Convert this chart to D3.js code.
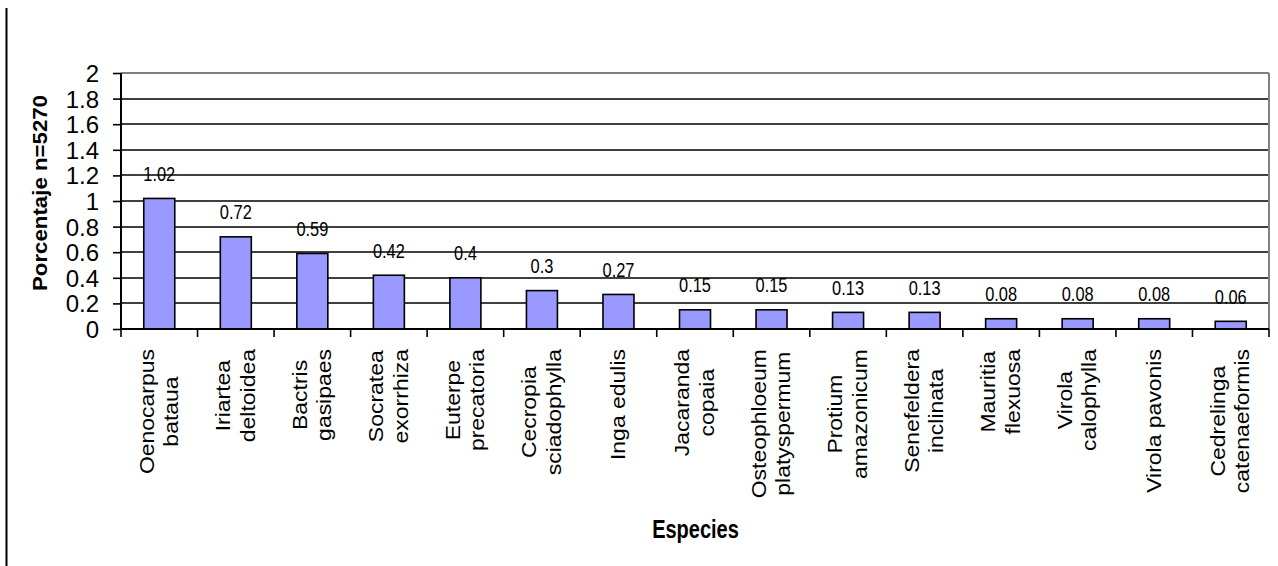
<!DOCTYPE html>
<html><head><meta charset="utf-8">
<script src="https://cdn.jsdelivr.net/npm/d3@7"></script>
<style>
body{margin:0;background:#fff}
svg{display:block}
text{font-family:"Liberation Sans",Arial,Helvetica,sans-serif;fill:#000}
</style>
</head><body>
<svg id="c" width="1278" height="566"></svg>
<script>
const categories = ["Oenocarpus\nbataua","Iriartea\ndeltoidea","Bactris\ngasipaes","Socratea\nexorrhiza","Euterpe\nprecatoria","Cecropia\nsciadophylla","Inga edulis","Jacaranda\ncopaia","Osteophloeum\nplatyspermum","Protium\namazonicum","Senefeldera\ninclinata","Mauritia\nflexuosa","Virola\ncalophylla","Virola pavonis","Cedrelinga\ncatenaeformis"];
const values = [1.02,0.72,0.59,0.42,0.4,0.3,0.27,0.15,0.15,0.13,0.13,0.08,0.08,0.08,0.06];
const yTicks = [0,0.2,0.4,0.6,0.8,1,1.2,1.4,1.6,1.8,2];
const yTickLabels = ["0","0.2","0.4","0.6","0.8","1","1.2","1.4","1.6","1.8","2"];
const yTitle = "Porcentaje n=5270";
const xTitle = "Especies";

const svg = d3.select("#c");
const pLeft = 121, pRight = 1269, pTop = 73, pBottom = 329;
const x = d3.scaleBand().domain(categories).range([pLeft, pRight]).paddingInner(0).paddingOuter(0);
const y = d3.scaleLinear().domain([0, 2]).range([pBottom, pTop]);
const bw = x.bandwidth();
const barW = bw * 0.405;

// outer left border
svg.append("line").attr("x1",6.5).attr("x2",6.5).attr("y1",8).attr("y2",566)
  .attr("stroke","#000").attr("stroke-width",2);

// gridlines
svg.append("g").selectAll("line").data(yTicks.filter(d => d > 0 && d < 2)).join("line")
  .attr("x1", pLeft).attr("x2", pRight)
  .attr("y1", d => Math.round(y(d))).attr("y2", d => Math.round(y(d)))
  .attr("stroke","#000").attr("stroke-width",1.6);
// top & right border (gray)
svg.append("line").attr("x1",pLeft).attr("x2",pRight).attr("y1",y(2)).attr("y2",y(2))
  .attr("stroke","#808080").attr("stroke-width",2);
svg.append("line").attr("x1",pRight).attr("x2",pRight).attr("y1",y(2)).attr("y2",y(0))
  .attr("stroke","#808080").attr("stroke-width",2);

// bars
svg.append("g").selectAll("rect").data(values).join("rect")
  .attr("x", (d,i) => x(categories[i]) + bw/2 - barW/2)
  .attr("y", d => y(d))
  .attr("width", barW)
  .attr("height", d => y(0) - y(d))
  .attr("fill","#9999ff").attr("stroke","#000").attr("stroke-width",1.6);

// y axis
const yAxis = d3.axisLeft(y).tickValues(yTicks).tickSize(8).tickPadding(14)
  .tickFormat((d,i) => yTickLabels[i]);
const gy = svg.append("g").attr("transform",`translate(${pLeft},0)`).call(yAxis);
gy.select(".domain").remove();
gy.selectAll(".tick line").attr("stroke","#000").attr("stroke-width",1.6);
gy.selectAll(".tick text").attr("font-size",24).attr("dy","0.35em").attr("fill","#000")
  .style("font-family","'Liberation Sans', Arial, sans-serif");
gy.attr("font-family",null).attr("font-size",null);
svg.append("line").attr("x1",pLeft).attr("x2",pLeft).attr("y1",y(2)).attr("y2",y(0))
  .attr("stroke","#000").attr("stroke-width",2);

// x axis line & ticks at category boundaries
svg.append("line").attr("x1",pLeft).attr("x2",pRight).attr("y1",y(0)).attr("y2",y(0))
  .attr("stroke","#000").attr("stroke-width",2);
const bounds = categories.map(c => x(c)).concat([x.range()[1]]);
svg.append("g").selectAll("line").data(bounds).join("line")
  .attr("x1", d => d).attr("x2", d => d).attr("y1", y(0)).attr("y2", y(0) + 8)
  .attr("stroke","#000").attr("stroke-width",1.6);

// data labels
const kData = 1.22;
svg.append("g").selectAll("text").data(values).join("text")
  .attr("transform",(d,i) => `translate(${x(categories[i]) + bw/2},${y(d) - 17.6}) scale(1,${kData})`)
  .attr("text-anchor","middle").attr("font-size",16.4)
  .text(d => String(d));

// category labels (rotated, lines centered on each other)
const kCat = 1.12, catFont = 20.5, lineGap = 24.5, catTop = 349;
categories.forEach((c, i) => {
  const lines = c.split("\n");
  const cx = x(c) + bw/2;
  const g = svg.append("g");
  const texts = lines.map((ln, j) => g.append("text")
    .attr("font-size", catFont).attr("text-anchor","middle").text(ln));
  const maxLen = d3.max(texts, t => t.node().getComputedTextLength());
  g.attr("transform", `translate(${cx},${catTop}) scale(1,${kCat}) rotate(-90)`);
  texts.forEach((t, j) => {
    t.attr("x", -maxLen/2).attr("y", 6.5 + (j - (lines.length-1)/2) * lineGap);
  });
});

// y title
svg.append("text")
  .attr("transform","translate(46.5,193) scale(1,1.06) rotate(-90)")
  .attr("text-anchor","middle").attr("font-weight","bold").attr("font-size",21)
  .text(yTitle);

// x title
svg.append("text")
  .attr("transform","translate(695.5,538) scale(1,1.25)")
  .attr("text-anchor","middle").attr("font-weight","bold").attr("font-size",20)
  .text(xTitle);
</script>
</body></html>
